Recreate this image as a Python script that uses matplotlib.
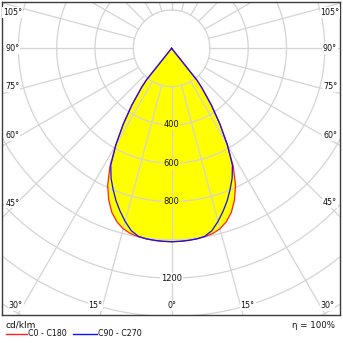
import numpy as np
import matplotlib.pyplot as plt
from matplotlib.lines import Line2D

# ============================
# Photometric data (cd/klm)
# ============================

# angle from nadir (deg)
gamma = [0, 2.5, 5, 7.5, 10, 12.5, 15, 17.5, 20, 22.5, 25, 27.5, 30,
         32.5, 35, 37.5, 38.5, 40, 50, 60, 70, 80, 90]
c0_c180 = [1010, 1009, 1007, 1004, 999, 991, 976, 950, 912, 858, 790, 698, 582,
           470, 362, 258, 212, 0, 0, 0, 0, 0, 0]
c90_c270 = [1010, 1009, 1007, 1004, 997, 975, 936, 893, 848, 798, 748, 688, 582,
            470, 362, 258, 212, 0, 0, 0, 0, 0, 0]

ring_values = [200, 400, 600, 800, 1000, 1200, 1400, 1600, 1800]
ring_labels = [400, 600, 800, 1200]
angle_labels = [0, 15, 30, 45, 60, 75, 90, 105]

# ============================
# Layout (pixels of a 343x343 image)
# ============================
W = H = 343
frame_l, frame_r, frame_t, frame_b = 2, 340, 2, 315
cx, cy = 171.6, 48.3          # polar centre
px_per_unit = 38.3 / 200      # 200 cd/klm per ring

fig = plt.figure(figsize=(W / 100, H / 100), dpi=100)
ax = fig.add_axes([frame_l / W, 1 - frame_b / H,
                   (frame_r - frame_l) / W, (frame_b - frame_t) / H])

xmin = (frame_l - cx) / px_per_unit
xmax = (frame_r - cx) / px_per_unit
ymax = (cy - frame_t) / px_per_unit
ymin = -(frame_b - cy) / px_per_unit
ax.set_xlim(xmin, xmax)
ax.set_ylim(ymin, ymax)
ax.set_xticks([])
ax.set_yticks([])
for sp in ax.spines.values():
    sp.set_color('#3c3c3c')
    sp.set_linewidth(1.0)


def curve_xy(vals):
    g = np.radians(np.array(gamma, dtype=float))
    v = np.array(vals, dtype=float)
    th = np.concatenate([-g[::-1], g[1:]])
    r = np.concatenate([v[::-1], v[1:]])
    return r * np.sin(th), -r * np.cos(th)


grid_col = '#d4d4d4'
txt_col = '#111111'

# rings
t = np.linspace(0, 2 * np.pi, 400)
for rv in ring_values:
    ax.plot(rv * np.cos(t), rv * np.sin(t), color=grid_col, lw=0.9, zorder=2)

# spokes every 15 deg, starting at the first ring
for a in range(-180, 181, 15):
    ar = np.radians(a)
    rr = np.array([ring_values[0], 2500])
    ax.plot(rr * np.sin(ar), -rr * np.cos(ar), color=grid_col, lw=0.9, zorder=2)

# fill and curves
x0, y0 = curve_xy(c0_c180)
x1, y1 = curve_xy(c90_c270)
ax.fill(x0, y0, color='#ffff00', lw=0, zorder=1)
ax.fill(x1, y1, color='#ffff00', lw=0, zorder=1)
ax.plot(x0, y0, color='#ff2020', lw=0.9, zorder=3)
ax.plot(x1, y1, color='#1010ff', lw=0.9, zorder=4)

# ring labels on the 0 deg axis
for rv in ring_labels:
    inside = rv < c0_c180[0]
    ax.text(0, -rv, str(rv), ha='center', va='center', fontsize=6,
            color=txt_col, zorder=5,
            bbox=dict(boxstyle='square,pad=0.1', fc='#ffff00' if inside else 'white', ec='none'))

# angle labels along the frame
in_l = xmin + 10.3 / px_per_unit
in_r = xmax - 10.0 / px_per_unit
in_b = ymin + 9.0 / px_per_unit
in_t = ymax - 10.7 / px_per_unit
for a in angle_labels:
    for sgn in ([1] if a == 0 else [-1, 1]):
        ar = np.radians(a)
        dx, dy = sgn * np.sin(ar), -np.cos(ar)
        t_b = in_b / dy if dy < 0 else np.inf
        x_edge = in_l if sgn < 0 else in_r
        t_s = x_edge / dx if abs(dx) > 1e-9 else np.inf
        if t_b <= t_s:
            x, y = dx * t_b, in_b
            ha = 'center' if a == 0 else ('right' if sgn < 0 else 'left')
            va = 'center'
        else:
            x, y = x_edge, dy * t_s
            ha = 'center'
            va = 'center' if a == 90 else 'bottom'
            if y > in_t:
                y, va = in_t, 'center'
        ax.text(x, y, f'{a}°', ha=ha, va=va, fontsize=5.8, color=txt_col, zorder=5,
                bbox=dict(boxstyle='square,pad=0.1', fc='white', ec='none'))

# ============================
# Legend / footer
# ============================
fig.text(6 / W, 1 - 325 / H, 'cd/klm', fontsize=6.5, ha='left', va='center', color=txt_col)
fig.text(335 / W, 1 - 325 / H, 'η = 100%', fontsize=6.2, ha='right', va='center', color=txt_col)
fig.add_artist(Line2D([6 / W, 27 / W], [1 - 334 / H] * 2, color='#ff2020', lw=1.0))
fig.add_artist(Line2D([73 / W, 97 / W], [1 - 334 / H] * 2, color='#1010ff', lw=1.0))
fig.text(28 / W, 1 - 334 / H, 'C0 - C180', fontsize=5.7, ha='left', va='center', color=txt_col)
fig.text(98 / W, 1 - 334 / H, 'C90 - C270', fontsize=5.7, ha='left', va='center', color=txt_col)

plt.savefig('out.png', dpi=100)
